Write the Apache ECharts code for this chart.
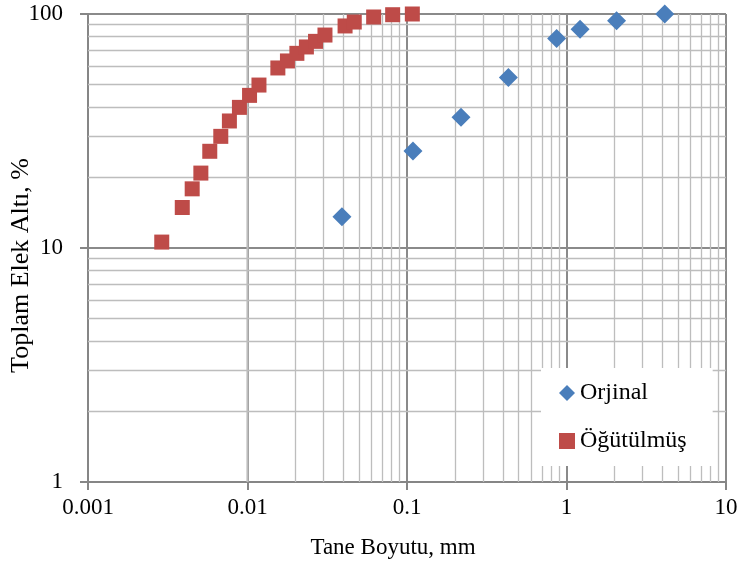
<!DOCTYPE html>
<html>
<head>
<meta charset="utf-8">
<script src="https://cdn.jsdelivr.net/npm/echarts@6/dist/echarts.min.js"></script>
<style>
  html, body { margin: 0; padding: 0; background: #fff; }
  #chart { width: 741px; height: 565px; }
</style>
</head>
<body>
<div id="chart"></div>
<script>
// Orjinal (blue diamonds)
var orjinalSize = [0.0391, 0.109, 0.218, 0.432, 0.867, 1.216, 2.06, 4.13]
var orjinalPass = [13.6, 26.0, 36.2, 53.5, 78.5, 86.0, 93.6, 100]

// Öğütülmüş (red squares)
var ogutSize = [0.0029, 0.0039, 0.0045, 0.0051, 0.0058, 0.0068, 0.0077, 0.0089, 0.0103, 0.0118,
  0.0155, 0.0178, 0.0204, 0.0234, 0.0267, 0.0306, 0.0409, 0.0467, 0.0618, 0.0813, 0.108]
var ogutPass = [10.6, 14.9, 17.9, 20.9, 25.9, 30.0, 34.9, 39.9, 44.9, 49.7,
  58.8, 63.0, 67.9, 72.3, 76.4, 81.3, 88.9, 92.4, 97.1, 99.3, 100]

var xTickLabels = ['0.001', '0.01', '0.1', '1', '10']
var yTickLabels = ['1', '10', '100']

var FONT = '"Liberation Serif", "Times New Roman", serif'

function pairs(xs, ys) {
  var out = []
  xs.map(function (x, i) { out.push([x, ys[i]]) })
  return out
}

// minor log grid lines (2..9 in each decade)
function minorLines(axis, from, to) {
  var lines = []
  for (var d = from; d < to; d *= 10) {
    for (var k = 2; k <= 9; k++) {
      var o = {}
      o[axis] = +(d * k).toPrecision(3)
      lines.push(o)
    }
  }
  return lines
}

var chart = echarts.init(document.getElementById('chart'))
chart.setOption({
  animation: false,
  textStyle: { fontFamily: FONT },
  grid: { left: 88, right: 15, top: 14, bottom: 83, containLabel: false, outerBoundsMode: 'none' },
  legend: {
    orient: 'vertical',
    left: 541,
    top: 368,
    padding: [12, 26, 12, 18],
    backgroundColor: '#fff',
    itemWidth: 16,
    itemHeight: 16,
    itemGap: 22,
    z: 10,
    textStyle: { fontFamily: FONT, fontSize: 24, color: '#000', lineHeight: 26 },
    data: ['Orjinal', 'Öğütülmüş']
  },
  xAxis: {
    type: 'log',
    logBase: 10,
    min: 0.001,
    max: 10,
    interval: 1,
    name: 'Tane Boyutu, mm',
    nameLocation: 'middle',
    nameGap: 54,
    nameTextStyle: { fontFamily: FONT, fontSize: 23, color: '#000', padding: [0, 28, 0, 0] },
    axisLine: { lineStyle: { color: '#868686', width: 2 } },
    axisTick: { show: true, inside: false, length: 8, lineStyle: { color: '#868686', width: 2 } },
    axisLabel: {
      fontFamily: FONT, fontSize: 23, color: '#000', margin: 14,
      formatter: function (v, i) { return xTickLabels[i] }
    },
    splitLine: { show: true, lineStyle: { color: '#8a8a8a', width: 2 } }
  },
  yAxis: {
    type: 'log',
    logBase: 10,
    min: 1,
    max: 100,
    interval: 1,
    name: 'Toplam Elek Altı, %',
    nameLocation: 'middle',
    nameGap: 54,
    nameRotate: 90,
    nameMoveOverlap: false,
    nameTextStyle: { fontFamily: FONT, fontSize: 26, color: '#000', padding: [0, 35, 0, 0] },
    axisLine: { lineStyle: { color: '#868686', width: 2 } },
    axisTick: { show: true, inside: false, length: 8, lineStyle: { color: '#868686', width: 2 } },
    axisLabel: {
      fontFamily: FONT, fontSize: 23, color: '#000', margin: 25,
      formatter: function (v, i) { return yTickLabels[i] }
    },
    splitLine: { show: true, lineStyle: { color: '#8a8a8a', width: 2 } }
  },
  series: [
    {
      name: 'grid-minor',
      type: 'line',
      data: [],
      silent: true,
      z: 1,
      markLine: {
        silent: true,
        symbol: 'none',
        label: { show: false },
        animation: false,
        lineStyle: { color: '#bdbdbd', width: 1.3, type: 'solid', opacity: 1 },
        data: minorLines('xAxis', 0.001, 10).concat(minorLines('yAxis', 1, 100))
      }
    },
    {
      name: 'Orjinal',
      type: 'scatter',
      symbol: 'diamond',
      symbolSize: 19,
      clip: false,
      z: 5,
      itemStyle: { color: '#4a7ebb', opacity: 1 },
      data: pairs(orjinalSize, orjinalPass)
    },
    {
      name: 'Öğütülmüş',
      type: 'scatter',
      symbol: 'rect',
      symbolSize: 15,
      clip: false,
      z: 5,
      itemStyle: { color: '#be4b48', opacity: 1 },
      data: pairs(ogutSize, ogutPass)
    }
  ]
})
</script>
</body>
</html>
